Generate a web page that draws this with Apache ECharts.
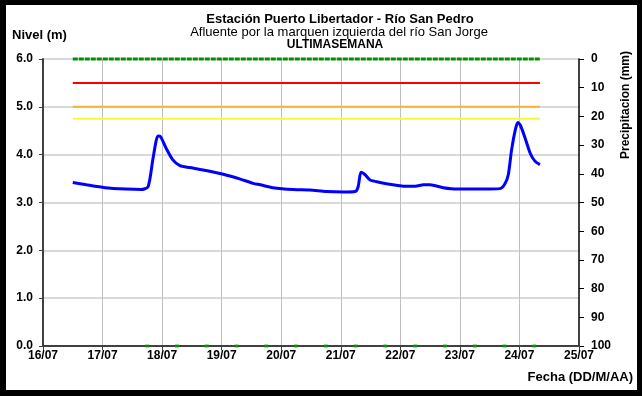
<!DOCTYPE html>
<html><head><meta charset="utf-8">
<script src="https://cdn.jsdelivr.net/npm/echarts@6/dist/echarts.min.js"></script>
<style>
html,body{margin:0;padding:0;background:#fff}
#c{position:absolute;left:0;top:0;width:642px;height:396px}
#f{position:absolute;left:0;top:0;width:642px;height:396px;box-sizing:border-box;border-style:solid;border-color:#000;border-width:5px 5px 6px 6px;pointer-events:none}
</style></head><body><div id="c"></div><div id="f"></div>
<script>
// ---- data ----
const tickLabels = ['16/07','17/07','18/07','19/07','20/07','21/07','22/07','23/07','24/07','25/07'];
const levelTimes = ['16/07 12:00','16/07 17:30','17/07 01:00','17/07 09:30','17/07 15:30','17/07 18:20','17/07 20:20','17/07 22:20','17/07 23:20','18/07 01:40','18/07 04:20','18/07 07:10','18/07 11:10','18/07 16:30','19/07 00:40','19/07 07:30','19/07 12:40','19/07 15:30','19/07 20:40','20/07 04:50','20/07 11:30','20/07 18:10','21/07 01:00','21/07 05:50','21/07 07:00','21/07 08:10','21/07 09:50','21/07 11:50','21/07 15:50','21/07 21:00','22/07 01:10','22/07 06:00','22/07 09:20','22/07 12:00','22/07 17:20','22/07 22:50','23/07 04:00','23/07 09:20','23/07 16:10','23/07 18:10','23/07 19:30','23/07 20:50','23/07 22:20','23/07 23:20','24/07 00:20','24/07 02:20','24/07 04:20','24/07 06:10','24/07 08:15'];
const levelValues = [3.42,3.37,3.31,3.28,3.27,3.33,3.92,4.39,4.38,4.13,3.89,3.77,3.73,3.68,3.59,3.49,3.40,3.37,3.31,3.27,3.26,3.23,3.22,3.23,3.33,3.63,3.58,3.47,3.42,3.37,3.34,3.34,3.37,3.37,3.31,3.28,3.28,3.28,3.29,3.39,3.58,4.10,4.52,4.67,4.62,4.34,4.03,3.87,3.79];
const readingTimes = ['17/07 18:00','18/07 06:00','18/07 18:00','19/07 06:00','19/07 18:00','20/07 06:00','20/07 18:00','21/07 06:00','21/07 18:00','22/07 06:00','22/07 18:00','23/07 06:00','23/07 18:00','24/07 06:00'];
const readingValues = [0,0,0,0,0,0,0,0,0,0,0,0,0,0];
const precipTimes = ['16/07 12:00','24/07 08:15'];
const precipValues = [0,0];
const thresholdTimes = ['16/07 12:00','24/07 08:15'];
const redLevel = 5.5, orangeLevel = 5.0, yellowLevel = 4.75;

function toDay(s){
  const [d,t]=s.split(' ');const [dd]=d.split('/').map(Number);const [hh,mm]=t.split(':').map(Number);
  return (dd-16)+hh/24+mm/1440;
}
const pairs=(ts,vs)=>ts.map((t,i)=>[toDay(t),vs[i]]);
const F='"Liberation Sans", Arial, sans-serif';
const lbl={fontFamily:F,fontWeight:'bold',fontSize:12,color:'#000'};
const thr=(v,c)=>({type:'line',data:thresholdTimes.map(t=>[toDay(t),v]),showSymbol:false,silent:true,lineStyle:{color:c,width:2},z:2});
const txt=(text,x,y,align,font)=>({type:'text',style:{text,x,y,textAlign:align,textVerticalAlign:'middle',font:font+' '+F,fill:'#000'}});

const chart=echarts.init(document.getElementById('c'),null,{renderer:'canvas'});
chart.setOption({
  animation:false,
  backgroundColor:'#fff',
  grid:{left:43,right:63,top:59,bottom:50,containLabel:false},
  xAxis:{type:'value',min:0,max:9,interval:1,
    axisLine:{onZero:false,lineStyle:{color:'#404040',width:2}},
    axisTick:{show:true,length:4,lineStyle:{color:'#404040'}},
    axisLabel:Object.assign({},lbl,{margin:4,formatter:(v)=>tickLabels[Math.round(v)]}),
    splitLine:{show:true,showMinLine:false,showMaxLine:false,lineStyle:{color:'#c0c0c0',width:1}}},
  yAxis:[
    {type:'value',min:0,max:6,interval:1,
     axisLine:{show:true,lineStyle:{color:'#404040',width:2}},
     axisTick:{show:true,length:4,lineStyle:{color:'#404040'}},
     axisLabel:Object.assign({},lbl,{margin:10,formatter:v=>v.toFixed(1)}),
     splitLine:{show:true,lineStyle:{color:'#d9d9d9',width:2}}},
    {type:'value',min:0,max:100,interval:10,inverse:true,position:'right',
     axisLine:{show:true,lineStyle:{color:'#000',width:1.5}},
     axisTick:{show:true,length:5,lineStyle:{color:'#000'}},
     axisLabel:Object.assign({},lbl,{margin:12}),
     splitLine:{show:false}}
  ],
  graphic:[
    txt('Estación Puerto Libertador - Río San Pedro',340,19,'center','bold 13px'),
    txt('Afluente por la marquen izquierda del río San Jorge',339,32,'center','13px'),
    txt('ULTIMASEMANA',335,45,'center','bold 12px'),
    txt('Nivel (m)',12,35,'left','bold 13px'),
    txt('Fecha (DD/M/AA)',633,377,'right','bold 13px'),
    {type:'text',x:626,y:105,rotation:Math.PI/2,style:{text:'Precipitacion (mm)',x:0,y:0,textAlign:'center',textVerticalAlign:'middle',font:'bold 12px '+F,fill:'#000'}}
  ],
  series:[
    thr(redLevel,'#ff0000'),
    thr(orangeLevel,'#f2b53a'),
    thr(yellowLevel,'#f8f83a'),
    {type:'line',yAxisIndex:1,data:pairs(precipTimes,precipValues),showSymbol:false,silent:true,clip:false,
     lineStyle:{color:'#008f00',width:3,type:[5,1]},z:5},
    {type:'line',data:pairs(levelTimes,levelValues),showSymbol:false,silent:true,smooth:0.25,
     lineStyle:{color:'#0000ff',width:3},z:4},
    {type:'scatter',data:pairs(readingTimes,readingValues),symbol:'rect',symbolSize:[4,3],clip:false,silent:true,
     itemStyle:{color:'#00a000'},z:6}
  ]
});
</script></body></html>
